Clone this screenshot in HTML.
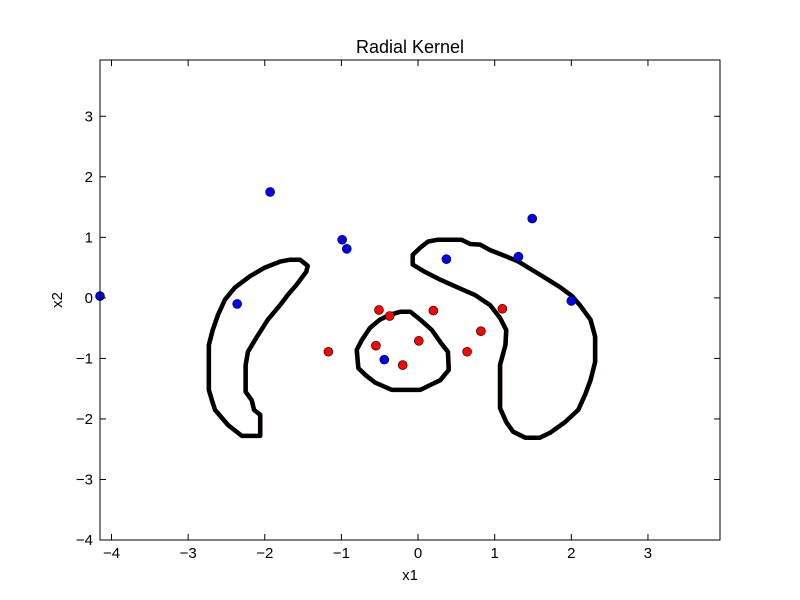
<!DOCTYPE html>
<html><head><meta charset="utf-8"><style>
body{margin:0;background:#fff;}
svg{display:block;font-family:"Liberation Sans",sans-serif;}
</style></head><body>
<svg id="chart" width="800" height="600">
<rect x="0" y="0" width="800" height="600" fill="#fff"/>
<g id="contours"></g>
<g id="points"></g>
<rect x="100" y="60" width="620" height="480" fill="none" stroke="#000" stroke-width="1"/>
<g id="ticks"></g>
<text x="410" y="53" text-anchor="middle" font-size="18">Radial Kernel</text>
<text x="410" y="580" text-anchor="middle" font-size="15">x1</text>
<text x="62" y="300" text-anchor="middle" font-size="15" transform="rotate(-90 62 300)">x2</text>
</svg>
<script>
const xTicks=[-4,-3,-2,-1,0,1,2,3];
const yTicks=[-4,-3,-2,-1,0,1,2,3];
const blueX=[-4.15,-1.93,-0.99,-0.93,-2.36,-0.44,0.37,1.49,1.31,2.00];
const blueY=[0.03,1.75,0.96,0.81,-0.10,-1.02,0.64,1.31,0.68,-0.05];
const redX=[-0.51,-0.37,0.20,1.10,0.82,-1.17,-0.55,0.01,-0.20,0.64];
const redY=[-0.20,-0.30,-0.21,-0.18,-0.55,-0.89,-0.79,-0.71,-1.11,-0.89];
const leftX=[-1.54,-1.44,-1.46,-1.59,-1.70,-1.80,-1.96,-2.11,-2.22,-2.25,-2.25,-2.17,-2.14,-2.06,-2.06,-2.30,-2.48,-2.65,-2.69,-2.73,-2.73,-2.68,-2.61,-2.52,-2.39,-2.19,-2.00,-1.80,-1.67];
const leftY=[0.63,0.53,0.43,0.21,0.05,-0.12,-0.36,-0.66,-0.89,-1.11,-1.55,-1.69,-1.85,-1.93,-2.28,-2.28,-2.10,-1.85,-1.69,-1.52,-0.78,-0.53,-0.28,-0.03,0.17,0.36,0.50,0.60,0.63];
const midX=[-0.23,-0.10,0.03,0.18,0.29,0.39,0.40,0.29,0.16,0.03,-0.34,-0.56,-0.69,-0.78,-0.80,-0.73,-0.63,-0.50,-0.37];
const midY=[-0.23,-0.23,-0.36,-0.53,-0.73,-0.89,-1.19,-1.36,-1.44,-1.52,-1.52,-1.40,-1.27,-1.16,-0.86,-0.69,-0.50,-0.36,-0.28];
const rightX=[0.25,0.57,0.68,0.81,0.94,1.14,1.31,1.49,1.66,1.85,2.01,2.11,2.25,2.31,2.31,2.25,2.18,2.09,1.92,1.72,1.59,1.40,1.24,1.15,1.07,1.07,1.14,1.15,1.07,0.94,0.74,0.52,0.29,0.09,-0.07,-0.07,0.03,0.13];
const rightY=[0.96,0.96,0.89,0.88,0.79,0.69,0.60,0.46,0.33,0.18,0.03,-0.12,-0.36,-0.64,-1.06,-1.36,-1.60,-1.85,-2.05,-2.23,-2.31,-2.31,-2.21,-2.05,-1.82,-1.11,-0.78,-0.53,-0.33,-0.12,0.05,0.17,0.30,0.43,0.55,0.71,0.83,0.93];

const NS="http://www.w3.org/2000/svg";
const xMin=-4.15,xMax=3.94,yMin=-4,yMax=3.93;
const sx=v=>100+(v-xMin)/(xMax-xMin)*620;
const sy=v=>540-(v-yMin)/(yMax-yMin)*480;
function mk(tag,attrs,parent){const e=document.createElementNS(NS,tag);for(const k in attrs)e.setAttribute(k,attrs[k]);parent.appendChild(e);return e;}

const cg=document.getElementById('contours');
[[leftX,leftY,'contour-left'],[midX,midY,'contour-center'],[rightX,rightY,'contour-right']].forEach(([xs,ys,name])=>{
  const d=xs.map((x,i)=>(i?'L':'M')+sx(x).toFixed(1)+' '+sy(ys[i]).toFixed(1)).join(' ')+' Z';
  const r=mk('path',{d:d,fill:'none',stroke:'#e00','stroke-width':1,'stroke-linejoin':'round',transform:'translate(1.8,0)'},cg);
  
  
  const p=mk('path',{d:d,fill:'none',stroke:'#000','stroke-width':4.5,'stroke-linejoin':'round'},cg);
  
  
});

const pg=document.getElementById('points');
blueX.forEach((x,i)=>{
  const c=mk('circle',{cx:sx(x),cy:sy(blueY[i]),r:4.5,fill:'#0000ff',stroke:'#000','stroke-width':0.6},pg);
  
  
});
redX.forEach((x,i)=>{
  const c=mk('circle',{cx:sx(x),cy:sy(redY[i]),r:4.5,fill:'#ff0000',stroke:'#000','stroke-width':0.6},pg);
  
  
});

const tg=document.getElementById('ticks');
xTicks.forEach(v=>{
  const x=sx(v);
  mk('line',{x1:x,y1:540,x2:x,y2:534,stroke:'#000'},tg);
  mk('line',{x1:x,y1:60,x2:x,y2:66,stroke:'#000'},tg);
  const t=mk('text',{x:x,y:558,'text-anchor':'middle','font-size':15},tg);
  t.textContent=(v<0?'\u2212'+(-v):v);
  
  
});
yTicks.forEach(v=>{
  const y=sy(v);
  mk('line',{x1:100,y1:y,x2:106,y2:y,stroke:'#000'},tg);
  mk('line',{x1:720,y1:y,x2:714,y2:y,stroke:'#000'},tg);
  const t=mk('text',{x:93,y:y+5,'text-anchor':'end','font-size':15},tg);
  t.textContent=(v<0?'\u2212'+(-v):v);
  
  
});
</script>
</body></html>
